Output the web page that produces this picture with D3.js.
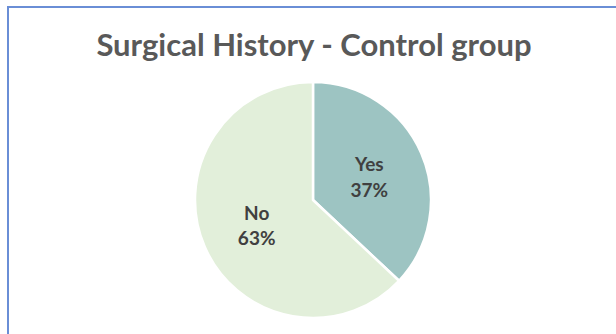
<!DOCTYPE html>
<html>
<head>
<meta charset="utf-8">
<script src="https://cdn.jsdelivr.net/npm/d3@7"></script>
<style>
  html, body { margin: 0; padding: 0; background: #fff; }
  svg { display: block; }
</style>
</head>
<body>
<svg id="chart" width="616" height="334"></svg>
<script>
// Surgical history shares in the control group
const categories = ["Yes", "No"];
const values = [37, 63];
const colors = ["#9dc4c2", "#e2efda"];
const title = "Surgical History - Control group";

const svg = d3.select("#chart");
const W = 616, H = 334;

// Chart frame (only the top and left edges fall inside the view)
svg.append("path")
  .attr("d", `M8,${H} L8,7 L${W},7`)
  .attr("fill", "none")
  .attr("stroke", "#6a8ed6")
  .attr("stroke-width", 2);

svg.append("text")
  .attr("x", 314)
  .attr("y", 56)
  .attr("text-anchor", "middle")
  .attr("font-family", "Lato, 'Open Sans', sans-serif")
  .attr("font-weight", 700)
  .attr("font-size", 31)
  .attr("fill", "#595959")
  .text(title);

const cx = 313, cy = 200, r = 118;
const data = categories.map((c, i) => ({ label: c, value: values[i], color: colors[i] }));

const pie = d3.pie().value(d => d.value).sort(null);
const arc = d3.arc().innerRadius(0).outerRadius(r);
const labelArc = d3.arc().innerRadius(r * 0.52).outerRadius(r * 0.52);

const g = svg.append("g").attr("transform", `translate(${cx},${cy})`);
const arcs = pie(data);

g.selectAll("path.slice")
  .data(arcs)
  .join("path")
  .attr("class", "slice")
  .attr("d", arc)
  .attr("fill", d => d.data.color)
  .attr("stroke", "#ffffff")
  .attr("stroke-width", 2.5)
  .attr("stroke-linejoin", "round");

const labels = g.selectAll("text.lbl")
  .data(arcs)
  .join("text")
  .attr("class", "lbl")
  .attr("transform", d => `translate(${labelArc.centroid(d)})`)
  .attr("text-anchor", "middle")
  .attr("font-family", "Lato, 'Open Sans', sans-serif")
  .attr("font-weight", 700)
  .attr("font-size", 19)
  .attr("fill", "#404040");

labels.append("tspan").attr("x", 0).attr("dy", "-0.25em").text(d => d.data.label);
labels.append("tspan").attr("x", 0).attr("dy", "1.35em").text(d => d.data.value + "%");
</script>
</body>
</html>
